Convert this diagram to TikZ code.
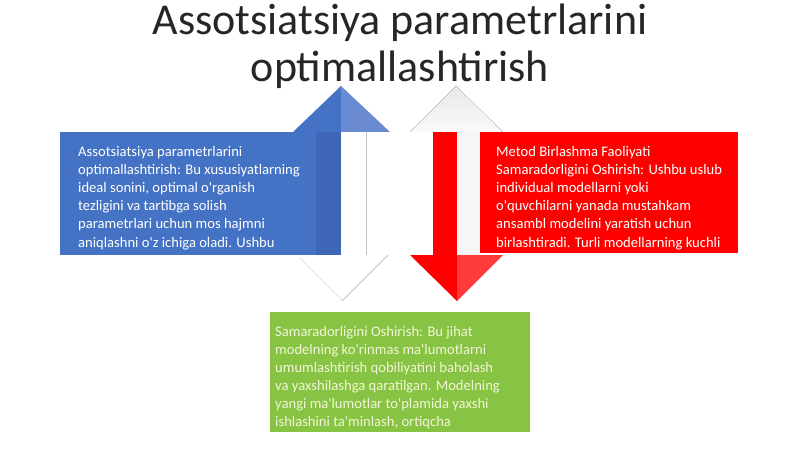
\documentclass[tikz,border=0pt]{standalone}
\usepackage{fontspec}
\setmainfont{Carlito}
\newcommand{\ap}{\textquotesingle}
\definecolor{ttl}{HTML}{262626}
\definecolor{bl}{HTML}{4472C4}
\definecolor{bldark}{HTML}{3D66B6}
\definecolor{bllight}{HTML}{6A8AD2}
\definecolor{rd}{HTML}{FF0000}
\definecolor{rdlight}{HTML}{FF3A3A}
\definecolor{gr}{HTML}{88C443}
\definecolor{grtext}{HTML}{F2F5D8}
\definecolor{edge}{HTML}{C4C4C4}
\begin{document}
\begin{tikzpicture}[x=1pt,y=-1pt,
  boxtext/.style={anchor=base west,inner sep=0pt,align=left,text=white,
    font=\fontsize{14.6}{18.2}\selectfont},
  titletext/.style={anchor=base,inner sep=0pt,align=center,text=ttl,
    font=\fontsize{44}{47}\selectfont}]
\useasboundingbox (0,0) rectangle (800,449);
% light grey up arrow (right)
\fill[top color=gray!18,bottom color=gray!4] (410,132) -- (456,86) -- (503,132) -- cycle;
\fill[gray!7] (457,132) rectangle (480,255);
% white down arrow (left)
\fill[white] (298,255) -- (342,301) -- (388,255) -- cycle;
\draw[gray!12,line width=2pt] (300,258) -- (342,300);
\draw[edge,line width=1pt] (388,255) -- (342,301);
% blue up arrow with box
\fill[bl] (60,132) rectangle (341,255);
\fill[bldark] (316,132) rectangle (341,255);
\fill[bl] (293,132) -- (341,86) -- (341,132) -- cycle;
\fill[bllight] (341,86) -- (390,132) -- (341,132) -- cycle;
\draw[edge,line width=1pt] (366,132) -- (366,255);
% red down arrow with box
\fill[rd] (480,132) rectangle (738,253);
\fill[rd] (433,132) rectangle (457,255);
\fill[rd] (410,255) -- (457,301) -- (457,255) -- cycle;
\fill[rdlight] (457,255) -- (457,301) -- (503,255) -- cycle;
% green box
\fill[gr] (270,312) rectangle (530,432);
% title
\node[titletext] (title) at (400,82) {Assotsiatsiya parametrlarini\\optimallashtirish};
% texts
\node[boxtext] (blue) at (78,247) {Assotsiatsiya parametrlarini\\optimallashtirish: Bu xususiyatlarning\\ideal sonini, optimal o\ap rganish\\tezligini va tartibga solish\\parametrlari uchun mos hajmni\\aniqlashni o\ap z ichiga oladi. Ushbu};
\node[boxtext] (red) at (496,247) {Metod Birlashma Faoliyati\\Samaradorligini Oshirish: Ushbu uslub\\individual modellarni yoki\\o\ap quvchilarni yanada mustahkam\\ansambl modelini yaratish uchun\\birlashtiradi. Turli modellarning kuchli};
\node[boxtext,text=grtext,font=\fontsize{14.6}{18}\selectfont] (green) at (275,426) {Samaradorligini Oshirish: Bu jihat\\modelning ko\ap rinmas ma\ap lumotlarni\\umumlashtirish qobiliyatini baholash\\va yaxshilashga qaratilgan. Modelning\\yangi ma\ap lumotlar to\ap plamida yaxshi\\ishlashini ta\ap minlash, ortiqcha};
\end{tikzpicture}
\end{document}
